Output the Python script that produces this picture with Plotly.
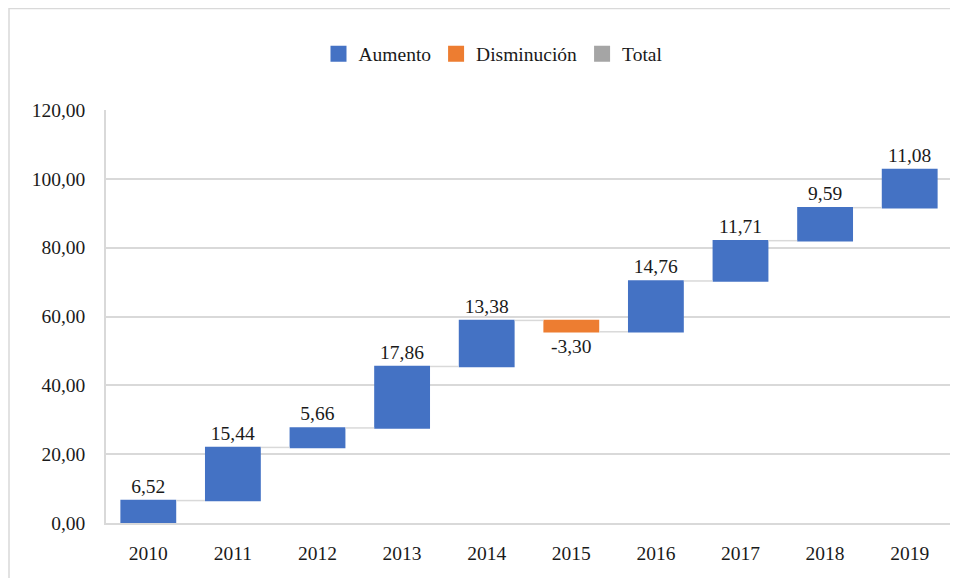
import plotly.graph_objects as go

years = ["2010", "2011", "2012", "2013", "2014", "2015", "2016", "2017", "2018", "2019"]
changes = [6.52, 15.44, 5.66, 17.86, 13.38, -3.30, 14.76, 11.71, 9.59, 11.08]
legend_names = ["Aumento", "Disminución", "Total"]
legend_colors = ["#4472C4", "#ED7D31", "#A5A5A5"]
y_ticks = [0, 20, 40, 60, 80, 100, 120]

FONT = "Liberation Serif"
FS = 19.5
TXT = "#1a1a1a"

L, T, R, B = 98, 102, 14, 63
PW, PH = 958 - L - R, 578 - T - B

fig = go.Figure()
fig.add_trace(go.Waterfall(
    x=years, y=changes, measure=["relative"] * len(years),
    increasing=dict(marker=dict(color=legend_colors[0], line=dict(width=0))),
    decreasing=dict(marker=dict(color=legend_colors[1], line=dict(width=0))),
    totals=dict(marker=dict(color=legend_colors[2])),
    connector=dict(line=dict(color="#D9D9D9", width=1.5)),
    texttemplate="%{delta:.2f}", textposition="outside",
    textfont=dict(family=FONT, size=FS, color=TXT),
    showlegend=False, cliponaxis=False,
))
for n, c in zip(legend_names, legend_colors):
    fig.add_trace(go.Scatter(x=[None], y=[None], mode="markers", name=n,
                             marker=dict(symbol="square", size=20, color=c)))

fig.update_layout(
    width=958, height=578,
    margin=dict(l=L, r=R, t=T, b=B),
    paper_bgcolor="white", plot_bgcolor="white",
    separators=",.",
    font=dict(family=FONT, size=FS, color=TXT),
    waterfallgap=0.34,
    legend=dict(orientation="h", x=(493 - 8 - L) / PW, xanchor="center",
                y=1 + (110 - 54) / PH, yanchor="middle",
                font=dict(family=FONT, size=FS, color=TXT), itemwidth=30),
    xaxis=dict(type="category", range=[-0.5, 9.5], showgrid=False,
               showline=True, linecolor="#D9D9D9", linewidth=1.5, ticks="",
               ticklabelstandoff=12,
               tickfont=dict(family=FONT, size=FS, color=TXT)),
    yaxis=dict(range=[0, 120], tickvals=y_ticks, tickformat=".2f",
               showgrid=True, gridcolor="#D9D9D9", gridwidth=1.5,
               showline=True, linecolor="#D9D9D9", linewidth=1.5, zeroline=False,
               ticks="", ticklabelstandoff=15,
               tickfont=dict(family=FONT, size=FS, color=TXT)),
    shapes=[dict(type="rect", xref="paper", yref="paper",
                 x0=(1 - L) / PW, x1=(958 - L) / PW,
                 y0=-(B + 5) / PH, y1=1 + (T - 0.5) / PH,
                 line=dict(color="#D9D9D9", width=1.5), layer="below")],
)

fig.write_html("out.html")
